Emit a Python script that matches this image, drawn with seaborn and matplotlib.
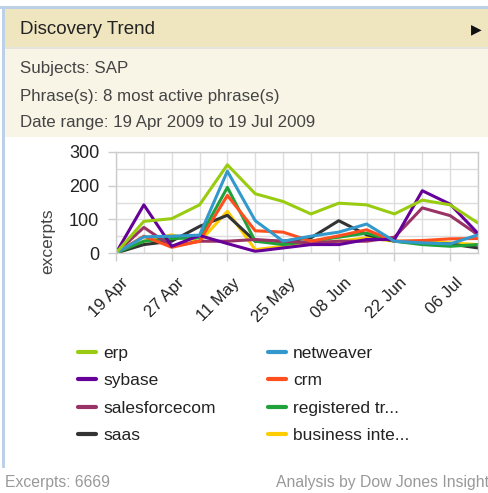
import numpy as np
import pandas as pd
import matplotlib
matplotlib.use("Agg")
import matplotlib.pyplot as plt
import seaborn as sns
from matplotlib.lines import Line2D
from matplotlib.patches import Rectangle
from matplotlib.transforms import ScaledTranslation

# weekly buckets, first one is the partial week of 19 Apr
weeks = ["19 Apr", "20 Apr", "27 Apr", "04 May", "11 May", "18 May", "25 May",
         "01 Jun", "08 Jun", "15 Jun", "22 Jun", "29 Jun", "06 Jul", "13 Jul"]

erp = [0, 94, 102, 143, 262, 176, 153, 116, 148, 143, 116, 157, 143, 89]
netweaver = [0, 48, 50, 53, 243, 96, 35, 50, 62, 86, 35, 30, 27, 54]
sybase = [0, 143, 20, 52, 28, 5, 15, 25, 25, 40, 40, 185, 145, 58]
crm = [0, 50, 17, 35, 171, 66, 62, 35, 51, 69, 35, 37, 42, 43]
salesforcecom = [0, 76, 20, 35, 35, 40, 35, 30, 35, 35, 47, 134, 111, 54]
registered = [0, 35, 43, 45, 195, 35, 25, 35, 47, 59, 35, 25, 20, 25]
saas = [0, 25, 35, 79, 112, 35, 35, 45, 96, 54, 35, 30, 27, 15]
business = [0, 35, 54, 33, 124, 10, 20, 30, 35, 45, 35, 35, 30, 25]

series = {
    "erp": erp,
    "netweaver": netweaver,
    "sybase": sybase,
    "crm": crm,
    "salesforcecom": salesforcecom,
    "registered tr...": registered,
    "saas": saas,
    "business inte...": business,
}

colors = {
    "erp": "#99cc11",
    "netweaver": "#3399cc",
    "sybase": "#660099",
    "crm": "#ff4f1f",
    "salesforcecom": "#993366",
    "registered tr...": "#1fa23a",
    "saas": "#333333",
    "business inte...": "#ffcc00",
}

# long form table for seaborn
rows = []
for name, vals in series.items():
    for i, v in enumerate(vals):
        rows.append({"week": i, "phrase": name, "excerpts": v})
df = pd.DataFrame(rows)

sns.set_theme(style="white")
plt.rcParams["font.family"] = ["Liberation Sans", "DejaVu Sans"]

W, H = 489, 493
fig = plt.figure(figsize=(W / 100, H / 100), dpi=100)
fig.patch.set_facecolor("white")


def fx(px):
    return px / W


def fy(py):
    return 1 - py / H


def band(x0, y0, x1, y1, color):
    fig.add_artist(Rectangle((fx(x0), fy(y1)), fx(x1) - fx(x0), fy(y0) - fy(y1),
                             transform=fig.transFigure, facecolor=color,
                             edgecolor="none", zorder=0))


# widget frame, header and info block
band(0, 6, W, 9, "#bcd0e8")
band(2, 6, 5, 468, "#bcd0e8")
band(5, 9, W, 47, "#efe6c0")
band(5, 47, W, 49, "#e4e4dc")
band(5, 49, W, 137, "#f8f4e6")

fig.text(fx(20), fy(29), "Discovery Trend", fontsize=13.5, color="#222222", va="center")
fig.text(fx(476), fy(29), "\u25b6", fontsize=10, color="#111111", va="center",
         ha="center", family=["DejaVu Sans"])
fig.text(fx(20), fy(68), "Subjects: SAP", fontsize=12.2, color="#444444", va="center")
fig.text(fx(20), fy(96), "Phrase(s): 8 most active phrase(s)", fontsize=12.2,
         color="#444444", va="center")
fig.text(fx(20), fy(123), "Date range: 19 Apr 2009 to 19 Jul 2009", fontsize=12.2,
         color="#444444", va="center")

# chart
ax = fig.add_axes([fx(116), fy(253), fx(478) - fx(116), fy(152) - fy(253)])
ax.set_facecolor("white")
draw_order = ["business inte...", "saas", "registered tr...", "salesforcecom",
              "crm", "sybase", "netweaver", "erp"]
sns.lineplot(data=df, x="week", y="excerpts", hue="phrase", hue_order=draw_order,
             palette=colors, linewidth=2.2, errorbar=None, legend=False, ax=ax)

ax.set_xlim(0, len(weeks) - 1)
ax.set_ylim(0, 300)
ax.set_xticks(range(0, len(weeks), 2))
ax.set_xticklabels(weeks[::2])
ax.set_xticks(range(1, len(weeks), 2), minor=True)
ax.set_yticks([0, 100, 200, 300])
ax.set_yticks([50, 150, 250], minor=True)
ax.grid(True, which="both", color="#dddddd", linewidth=1.0)
ax.set_axisbelow(True)
for sp in ax.spines.values():
    sp.set_color("#cccccc")
    sp.set_linewidth(1.0)
ax.tick_params(axis="y", which="major", length=6, width=1, color="#cccccc",
               pad=6, labelsize=13, labelcolor="#222222", left=True)
ax.tick_params(axis="y", which="minor", length=0)
ax.tick_params(axis="x", which="major", length=6, width=1, color="#cccccc",
               pad=10, labelsize=12, labelcolor="#222222", bottom=True)
ax.tick_params(axis="x", which="minor", length=0)
shift = ScaledTranslation(5 / 100, 0, fig.dpi_scale_trans)
for lab in ax.get_xticklabels():
    lab.set_rotation(45)
    lab.set_ha("right")
    lab.set_rotation_mode("anchor")
    lab.set_transform(lab.get_transform() + shift)
ax.set_xlabel("")
ax.set_ylabel("")
fig.text(fx(48), fy(241), "excerpts", rotation=90, fontsize=12.5, color="#444444",
         ha="center", va="center")

# legend, two columns
col1 = ["erp", "sybase", "salesforcecom", "saas"]
col2 = ["netweaver", "crm", "registered tr...", "business inte..."]
for names, x0 in [(col1, 78), (col2, 268)]:
    handles = [Line2D([], [], color=colors[n], linewidth=3) for n in names]
    fig.legend(handles, names, loc="upper left", bbox_to_anchor=(fx(x0), fy(346)),
               frameon=False, borderpad=0, borderaxespad=0, handlelength=1.05,
               handletextpad=0.4, labelspacing=0.7, fontsize=12.5,
               labelcolor="#222222")

# footer
fig.text(fx(5), fy(483), "Excerpts: 6669", fontsize=11.3, color="#999999", va="center")
fig.text(fx(276), fy(483), "Analysis by Dow Jones Insight", fontsize=11.3,
         color="#999999", va="center")

fig.savefig("out.png", dpi=100)
